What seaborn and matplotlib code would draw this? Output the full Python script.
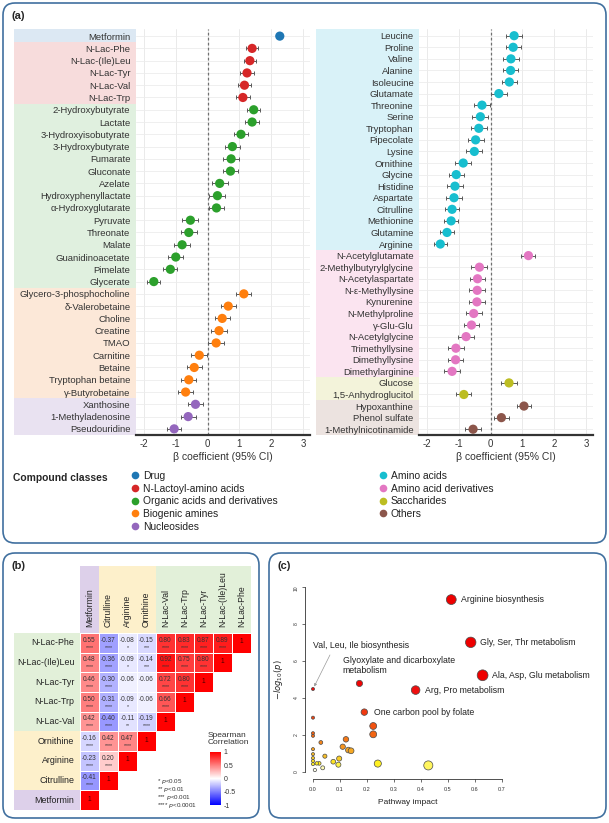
import numpy as np
import pandas as pd
import matplotlib
matplotlib.use("Agg")
import matplotlib.pyplot as plt
import matplotlib.transforms as mtrans
from matplotlib.patches import Rectangle, FancyBboxPatch
from matplotlib.colors import LinearSegmentedColormap
from matplotlib.lines import Line2D
import seaborn as sns

sns.set_theme(style="white")
plt.rcParams['font.family'] = ['Liberation Sans', 'DejaVu Sans']
plt.rcParams['axes.unicode_minus'] = False

# ################################################
# Data - panel (a), forest plot
classes = ["Drug", "N-Lactoyl-amino acids", "Organic acids and derivatives",
           "Biogenic amines", "Nucleosides", "Amino acids",
           "Amino acid derivatives", "Saccharides", "Others"]
class_colors = ["#1f77b4", "#d62728", "#2ca02c", "#ff7f0e", "#9467bd",
                "#17becf", "#e377c2", "#bcbd22", "#8c564b"]
band_colors = ["#dce8f3", "#f7dcdc", "#e0f0df", "#fce8d8", "#e9e2f1",
               "#d9f2f8", "#fbe4f0", "#f3f3da", "#ece3e0"]

left_names = ["Metformin", "N-Lac-Phe", "N-Lac-(Ile)Leu", "N-Lac-Tyr", "N-Lac-Val", "N-Lac-Trp",
              "2-Hydroxybutyrate", "Lactate", "3-Hydroxyisobutyrate", "3-Hydroxybutyrate",
              "Fumarate", "Gluconate", "Azelate", "Hydroxyphenyllactate", "α-Hydroxyglutarate",
              "Pyruvate", "Threonate", "Malate", "Guanidinoacetate", "Pimelate", "Glycerate",
              "Glycero-3-phosphocholine", "δ-Valerobetaine", "Choline", "Creatine", "TMAO",
              "Carnitine", "Betaine", "Tryptophan betaine", "γ-Butyrobetaine",
              "Xanthosine", "1-Methyladenosine", "Pseudouridine"]
left_beta = [2.27, 1.40, 1.33, 1.24, 1.16, 1.11,
             1.45, 1.40, 1.05, 0.78, 0.74, 0.72, 0.38, 0.31, 0.28,
             -0.54, -0.59, -0.80, -1.00, -1.17, -1.69,
             1.14, 0.65, 0.46, 0.36, 0.27, -0.26, -0.42, -0.59, -0.69,
             -0.38, -0.61, -1.05]
left_ci = [0.05, 0.19, 0.20, 0.21, 0.21, 0.21,
           0.21, 0.21, 0.23, 0.24, 0.24, 0.24, 0.25, 0.25, 0.25,
           0.25, 0.25, 0.24, 0.23, 0.22, 0.20,
           0.24, 0.24, 0.24, 0.25, 0.25, 0.25, 0.24, 0.24, 0.24,
           0.24, 0.24, 0.23]
left_groups = [0, 1, 2, 3, 4]
left_group_sizes = [1, 5, 15, 9, 3]

right_names = ["Leucine", "Proline", "Valine", "Alanine", "Isoleucine", "Glutamate",
               "Threonine", "Serine", "Tryptophan", "Pipecolate", "Lysine", "Ornithine",
               "Glycine", "Histidine", "Aspartate", "Citrulline", "Methionine", "Glutamine",
               "Arginine",
               "N-Acetylglutamate", "2-Methylbutyrylglycine", "N-Acetylaspartate",
               "N-ε-Methyllysine", "Kynurenine", "N-Methylproline", "γ-Glu-Glu",
               "N-Acetylglycine", "Trimethyllysine", "Dimethyllysine", "Dimethylarginine",
               "Glucose", "1,5-Anhydroglucitol",
               "Hypoxanthine", "Phenol sulfate", "1-Methylnicotinamide"]
right_beta = [0.74, 0.71, 0.64, 0.63, 0.59, 0.26, -0.27, -0.32, -0.37, -0.47, -0.51,
              -0.86, -1.08, -1.12, -1.15, -1.21, -1.24, -1.37, -1.58,
              1.19, -0.35, -0.41, -0.42, -0.43, -0.53, -0.60, -0.77, -1.09, -1.10, -1.21,
              0.58, -0.84,
              1.05, 0.34, -0.55]
right_ci = [0.24, 0.24, 0.24, 0.24, 0.24, 0.25, 0.25, 0.25, 0.25, 0.25, 0.25,
            0.25, 0.24, 0.24, 0.24, 0.23, 0.23, 0.22, 0.21,
            0.22, 0.25, 0.25, 0.25, 0.25, 0.25, 0.24, 0.24, 0.24, 0.24, 0.24,
            0.24, 0.24,
            0.23, 0.24, 0.24]
right_groups = [5, 6, 7, 8]
right_group_sizes = [19, 11, 2, 3]

# Data - panel (b), Spearman correlation
hm_rows = ["N-Lac-Phe", "N-Lac-(Ile)Leu", "N-Lac-Tyr", "N-Lac-Trp", "N-Lac-Val",
           "Ornithine", "Arginine", "Citrulline", "Metformin"]
hm_cols = ["Metformin", "Citrulline", "Arginine", "Ornithine", "N-Lac-Val",
           "N-Lac-Trp", "N-Lac-Tyr", "N-Lac-(Ile)Leu", "N-Lac-Phe"]
rho = [[0.55, -0.37, -0.08, -0.15, 0.80, 0.83, 0.87, 0.89, 1],
       [0.48, -0.36, -0.09, -0.14, 0.92, 0.75, 0.80, 1],
       [0.46, -0.30, -0.06, -0.06, 0.72, 0.80, 1],
       [0.50, -0.31, -0.09, -0.06, 0.66, 1],
       [0.42, -0.40, -0.11, -0.19, 1],
       [-0.16, 0.42, 0.47, 1],
       [-0.23, 0.20, 1],
       [-0.41, 1],
       [1]]
stars = [["****", "****", "*", "***", "****", "****", "****", "****", ""],
         ["****", "****", "*", "***", "****", "****", "****", ""],
         ["****", "****", "", "", "****", "****", ""],
         ["****", "****", "*", "", "****", ""],
         ["****", "****", "**", "****", ""],
         ["****", "****", "****", ""],
         ["****", "****", ""],
         ["****", ""],
         [""]]
hm_col_groups = ["#ddd0ea", "#fdf0cb", "#e2f0d9"]
hm_col_sizes = [1, 3, 5]
hm_row_groups = ["#e2f0d9", "#fdf0cb", "#ddd0ea"]
hm_row_sizes = [5, 3, 1]

# Data - panel (c), pathway analysis
path_impact = [0.512, 0.584, 0.628, 0.380, 0.172, 0.190, 0.0,
               0.223, 0.223, 0.0, 0.0, 0.0, 0.029, 0.0, 0.0, 0.0, 0.0, 0.0,
               0.044, 0.023, 0.036, 0.007, 0.075, 0.097, 0.094, 0.110, 0.122,
               0.131, 0.141, 0.240, 0.427, 0.014]
path_logp = [9.32, 7.01, 5.23, 4.43, 4.79, 3.24, 4.49,
             2.49, 2.04, 2.94, 2.10, 1.96, 1.60, 1.24, 0.97, 0.76, 0.60, 0.43,
             0.86, 0.47, 0.23, 0.11, 0.56, 0.73, 0.40, 1.37, 1.77,
             1.19, 1.15, 0.46, 0.36, 0.47]
path_labels = {0: "Arginine biosynthesis", 1: "Gly, Ser, Thr metabolism",
               2: "Ala, Asp, Glu metabolism", 3: "Arg, Pro metabolism",
               5: "One carbon pool by folate"}

W, H = 609, 823
fig = plt.figure(figsize=(W / 100, H / 100), dpi=100)


def fx(px):
    return px / W


def fy(py):
    return 1 - py / H


# ################################################
# Panel boxes and labels
edge = "#41709f"
for x0, y0, x1, y1 in [(3, 3, 606, 543), (3, 553, 259, 818), (269, 553, 606, 818)]:
    box = FancyBboxPatch((x0 / 100, (H - y1) / 100), (x1 - x0) / 100, (y1 - y0) / 100,
                         boxstyle="round,pad=0,rounding_size=0.12",
                         transform=fig.dpi_scale_trans, facecolor="none",
                         edgecolor=edge, lw=1.2)
    fig.add_artist(box)
fig.text(fx(12), fy(16), "(a)", fontsize=8, fontweight="bold", va="center")
fig.text(fx(12), fy(566), "(b)", fontsize=8, fontweight="bold", va="center")
fig.text(fx(278), fy(566), "(c)", fontsize=8, fontweight="bold", va="center")


# ################################################
# Forest plots
def forest(ax, names, beta, ci, groups, sizes, band_left):
    n = len(names)
    cls = np.repeat(groups, sizes)
    df = pd.DataFrame({"beta": beta, "ci": ci, "pos": np.arange(n),
                       "cls": [classes[i] for i in cls]})
    for t in range(-2, 4):
        ax.axvline(t, color="#e6e6e6", lw=0.6, zorder=0)
    for i in range(n):
        ax.axhline(i, color="#ececec", lw=0.6, zorder=0)
    ax.axvline(0, color="#707070", lw=0.9, ls=(0, (2.2, 1.8)), zorder=1)
    ax.errorbar(df["beta"], df["pos"], xerr=df["ci"], fmt="none", ecolor="#5a5a5a",
                elinewidth=0.7, capsize=1.3, capthick=0.7, zorder=2)
    sns.scatterplot(data=df, x="beta", y="pos", hue="cls",
                    palette=dict(zip(classes, class_colors)), s=44,
                    edgecolor="none", legend=False, ax=ax, zorder=3)
    ax.set_xlim(-2.25, 3.22)
    ax.set_ylim(n - 0.5, -0.58)
    trans = mtrans.blended_transform_factory(ax.transAxes, ax.transData)
    start = 0
    for g, s in zip(groups, sizes):
        top = -0.58 if start == 0 else start - 0.5
        ax.add_patch(Rectangle((band_left, top), -band_left, start + s - 0.5 - top,
                               transform=trans, facecolor=band_colors[g],
                               edgecolor="none", clip_on=False, zorder=0))
        start += s
    ax.set_yticks(range(n))
    ax.set_yticklabels(names)
    ax.set_xticks(range(-2, 4))
    ax.tick_params(axis="y", length=0, pad=4, labelsize=6.8, labelcolor="#333333")
    ax.tick_params(axis="x", length=0, pad=3, labelsize=6.9, labelcolor="#333333")
    for sp in ["top", "right", "left"]:
        ax.spines[sp].set_visible(False)
    ax.spines["bottom"].set_color("#333333")
    ax.spines["bottom"].set_linewidth(1.6)
    ax.set_ylabel("")
    ax.set_xlabel("β coefficient (95% CI)", fontsize=7.5, color="#333333", labelpad=2)


ax_l = fig.add_axes([fx(136), fy(435), fx(310 - 136), (435 - 29) / H])
forest(ax_l, left_names, left_beta, left_ci, left_groups, left_group_sizes, -0.70)
ax_r = fig.add_axes([fx(419), fy(435), fx(593 - 419), (435 - 29) / H])
forest(ax_r, right_names, right_beta, right_ci, right_groups, right_group_sizes, -0.59)

# Legend
fig.text(fx(13), fy(478), "Compound classes", fontsize=7.4, fontweight="bold", va="center")


def handles(idx):
    return [Line2D([], [], ls="none", marker="o", ms=5.5, mec="none",
                   mfc=class_colors[i]) for i in idx]


for idx, x in [([0, 1, 2, 3, 4], 131), ([5, 6, 7, 8], 379)]:
    fig.legend(handles(idx), [classes[i] for i in idx], loc="upper left",
               bbox_to_anchor=(fx(x), fy(471)), frameon=False, fontsize=7.4,
               handlelength=0.7, handletextpad=0.45, labelspacing=0.26,
               borderpad=0, borderaxespad=0, labelcolor="#222222")

# ################################################
# Panel (b) heatmap
n = len(hm_rows)
mat = np.full((n, n), np.nan)
for i, row in enumerate(rho):
    mat[i, :len(row)] = row
corr_cmap = LinearSegmentedColormap.from_list("bwr2", ["#0000ff", "#ffffff", "#ff0000"])
ax_b = fig.add_axes([fx(80), fy(810), fx(171), 177 / H])
cax = fig.add_axes([fx(210), fy(805), fx(11), 53 / H])
sns.heatmap(pd.DataFrame(mat, index=hm_rows, columns=hm_cols), mask=np.isnan(mat),
            cmap=corr_cmap, vmin=-1, vmax=1, linewidths=0.4, linecolor="white",
            cbar_ax=cax, cbar_kws={"ticks": [-1, -0.5, 0, 0.5, 1]}, ax=ax_b,
            square=False)
for i, row in enumerate(rho):
    for j, v in enumerate(row):
        if v == 1:
            ax_b.text(j + 0.5, i + 0.45, "1", ha="center", va="center", fontsize=4.8,
                      color="#4a0000")
        else:
            ax_b.text(j + 0.5, i + 0.36, f"{v:.2f}", ha="center", va="center",
                      fontsize=4.7, color="#333333")
            ax_b.text(j + 0.5, i + 0.72, stars[i][j], ha="center", va="center",
                      fontsize=3.8, color="#333333")
ax_b.xaxis.tick_top()
ax_b.set_xticklabels(hm_cols, rotation=90, fontsize=6.2, color="#222222")
ax_b.set_yticklabels(hm_rows, rotation=0, fontsize=6.4, color="#222222")
ax_b.tick_params(axis="x", length=0, pad=4)
ax_b.tick_params(axis="y", length=0, pad=4)
ax_b.set_xlabel("")
ax_b.set_ylabel("")
tx = mtrans.blended_transform_factory(ax_b.transData, ax_b.transAxes)
start = 0
for c, s in zip(hm_col_groups, hm_col_sizes):
    ax_b.add_patch(Rectangle((start, 1), s, 0.38, transform=tx, facecolor=c,
                             edgecolor="none", clip_on=False, zorder=0))
    start += s
ty = mtrans.blended_transform_factory(ax_b.transAxes, ax_b.transData)
start = 0
for c, s in zip(hm_row_groups, hm_row_sizes):
    ax_b.add_patch(Rectangle((-0.386, start), 0.386, s, transform=ty, facecolor=c,
                             edgecolor="none", clip_on=False, zorder=0))
    start += s
cax.tick_params(length=0, labelsize=5, pad=2)
cax.set_yticklabels(["-1", "-0.5", "0", "0.5", "1"], color="#333333")
fig.text(fx(208), fy(739), "Spearman\nCorrelation", fontsize=6, va="center",
         ha="left", color="#333333", linespacing=1.0)
for k, t in enumerate(["* $p$<0.05", "** $p$<0.01", "*** $p$<0.001", "**** $p$<0.0001"]):
    fig.text(fx(157), fy(781 + 8 * k), t, fontsize=4.5, va="center", color="#333333")

# ################################################
# Panel (c) pathway impact
heat = LinearSegmentedColormap.from_list(
    "heat", [(0, "#ffffff"), (0.03, "#ffffe0"), (0.09, "#fff020"), (0.16, "#f8c428"),
             (0.28, "#f59220"), (0.42, "#f26010"), (0.65, "#f03810"), (0.88, "#ee1010"),
             (1, "#ee0000")])
dfc = pd.DataFrame({"impact": path_impact, "logp": path_logp})
ax_c = fig.add_axes([fx(305), fy(779.3), fx(204.6), (779.3 - 579.6) / H])
sns.scatterplot(data=dfc, x="impact", y="logp", hue="logp", hue_norm=(0, 5),
                palette=heat, size="impact", sizes=(5, 67), size_norm=(0, 0.7),
                edgecolor="#4a4a4a", linewidth=0.5, legend=False, ax=ax_c, zorder=3)
ax_c.set_xlim(-0.0296, 0.728)
ax_c.set_ylim(-0.39, 10.4)
for sp in ["top", "right"]:
    ax_c.spines[sp].set_visible(False)
ax_c.spines["left"].set_bounds(0, 10)
ax_c.spines["bottom"].set_bounds(0, 0.7)
for sp in ["left", "bottom"]:
    ax_c.spines[sp].set_color("#333333")
    ax_c.spines[sp].set_linewidth(0.6)
ax_c.set_xticks(np.arange(0, 0.71, 0.1))
ax_c.set_xticklabels([f"{v:.1f}" for v in np.arange(0, 0.71, 0.1)])
ax_c.set_yticks(range(0, 11, 2))
ax_c.tick_params(axis="x", length=2.5, width=0.5, labelsize=4, pad=3, colors="#333333",
                 bottom=True)
ax_c.tick_params(axis="y", length=2.5, width=0.5, labelsize=3.6, pad=2, colors="#333333",
                 left=True, labelrotation=90)
ax_c.set_xlabel("Pathway impact", fontsize=6, color="#222222", labelpad=5)
ax_c.set_ylabel(r"$-log_{10}(p)$", fontsize=6, color="#222222", labelpad=6)
for i, lab in path_labels.items():
    ax_c.annotate(lab, (path_impact[i], path_logp[i]), xytext=(7, 0),
                  textcoords="offset points", va="center", fontsize=6.3, color="#222222")
ax_c.annotate("Glyoxylate and dicarboxylate\nmetabolism", (path_impact[4], path_logp[4]),
              xytext=(-12, 13), textcoords="offset points", va="center", ha="left",
              fontsize=6.3, color="#222222", linespacing=1.1)
ax_c.annotate("Val, Leu, Ile biosynthesis", (path_impact[6], path_logp[6]),
              xytext=(0, 31), textcoords="offset points", va="center", ha="left",
              fontsize=6.3, color="#222222",
              arrowprops=dict(arrowstyle="-|>", color="#999999", lw=0.5,
                              mutation_scale=4, relpos=(0.2, 0), shrinkA=1, shrinkB=2))

fig.savefig("out.png", dpi=100)
